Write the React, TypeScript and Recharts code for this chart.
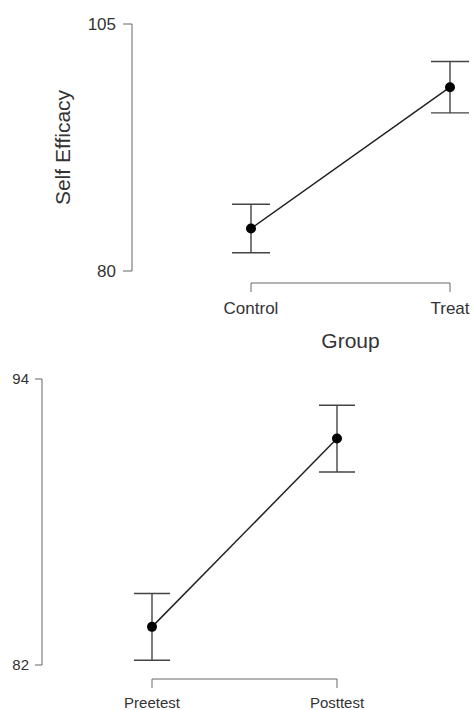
import React from 'react';
import { LineChart, Line, XAxis, YAxis, ErrorBar } from 'recharts';

// Top chart: Self Efficacy by Group
const groups = ['Control', 'Treat'];
const groupMeans = [84.3, 98.6];
const groupErrors = [2.45, 2.6];
const groupTicks = [80, 105];

// Bottom chart: Pretest vs Posttest
const times = ['Preetest', 'Posttest'];
const timeMeans = [83.6, 91.5];
const timeErrors = [1.4, 1.4];
const timeTicks = [82, 94];

const topData = groups.map((g, i) => ({ cat: g, mean: groupMeans[i], err: groupErrors[i] }));
const bottomData = times.map((g, i) => ({ cat: g, mean: timeMeans[i], err: timeErrors[i] }));

const FONT = '"Liberation Sans", Arial, Helvetica, sans-serif';
const AXIS = '#666';
const TEXT = '#333';
const abs = (top: number, left = 0): React.CSSProperties => ({ position: 'absolute', top, left });

export default function App() {
  return (
    <div style={{ position: 'absolute', left: 0, top: 0, width: 473, height: 710, background: '#fff', fontFamily: FONT }}>
      {/* Top main chart */}
      <div style={abs(0)}>
        <LineChart width={473} height={300} data={topData} margin={{ top: 24, right: 3, bottom: 29, left: 0 }}>
          <XAxis dataKey="cat" hide padding={{ left: 119, right: 20 }} />
          <YAxis
            domain={[groupTicks[0], groupTicks[1]]}
            ticks={groupTicks}
            width={132}
            tickSize={9}
            tickMargin={7}
            stroke={AXIS}
            tick={{ fill: TEXT, fontSize: 17, fontFamily: FONT }}
            label={(p: any) => {
              const vb = p.viewBox;
              const cx = 62;
              const cy = vb.y + vb.height / 2;
              return (
                <text x={cx} y={cy} transform={`rotate(-90 ${cx} ${cy})`} textAnchor="middle" dominantBaseline="central" fill={TEXT} fontSize={21} fontFamily={FONT}>
                  Self Efficacy
                </text>
              );
            }}
          />
          <Line dataKey="mean" stroke="#222" strokeWidth={1.5} isAnimationActive={false}
            dot={{ r: 5, fill: '#000', stroke: '#000', strokeWidth: 0 }} activeDot={false}>
            <ErrorBar dataKey="err" width={19} stroke="#444" strokeWidth={1.4} direction="y" isAnimationActive={false} />
          </Line>
        </LineChart>
      </div>
      {/* Top x-axis bracket */}
      <div style={abs(0)}>
        <LineChart width={473} height={360} data={topData} margin={{ top: 24, right: 23, bottom: 0, left: 251 }}>
          <XAxis
            dataKey="cat"
            height={77}
            tickSize={9}
            tickMargin={10}
            stroke={AXIS}
            interval={0}
            tick={{ fill: TEXT, fontSize: 17, fontFamily: FONT }}
            label={{ value: 'Group', position: 'insideBottom', offset: 12, fill: TEXT, fontSize: 21, fontFamily: FONT }}
          />
          <YAxis hide />
          <Line dataKey="mean" stroke="none" dot={false} activeDot={false} isAnimationActive={false} />
        </LineChart>
      </div>
      {/* Bottom main chart */}
      <div style={abs(360)}>
        <LineChart width={473} height={350} data={bottomData} margin={{ top: 19, right: 33, bottom: 45, left: 0 }}>
          <XAxis dataKey="cat" hide padding={{ left: 110, right: 103 }} />
          <YAxis
            domain={[timeTicks[0], timeTicks[1]]}
            ticks={timeTicks}
            width={42}
            tickSize={7}
            tickMargin={6}
            stroke={AXIS}
            tick={{ fill: TEXT, fontSize: 15, fontFamily: FONT }}
          />
          <Line dataKey="mean" stroke="#222" strokeWidth={1.5} isAnimationActive={false}
            dot={{ r: 5, fill: '#000', stroke: '#000', strokeWidth: 0 }} activeDot={false}>
            <ErrorBar dataKey="err" width={18} stroke="#444" strokeWidth={1.4} direction="y" isAnimationActive={false} />
          </Line>
        </LineChart>
      </div>
      {/* Bottom x-axis bracket */}
      <div style={abs(360)}>
        <LineChart width={473} height={350} data={bottomData} margin={{ top: 19, right: 136, bottom: 0, left: 152 }}>
          <XAxis
            dataKey="cat"
            height={31}
            tickSize={9}
            tickMargin={9}
            stroke={AXIS}
            interval={0}
            tick={{ fill: TEXT, fontSize: 15, fontFamily: FONT }}
          />
          <YAxis hide />
          <Line dataKey="mean" stroke="none" dot={false} activeDot={false} isAnimationActive={false} />
        </LineChart>
      </div>
    </div>
  );
}
